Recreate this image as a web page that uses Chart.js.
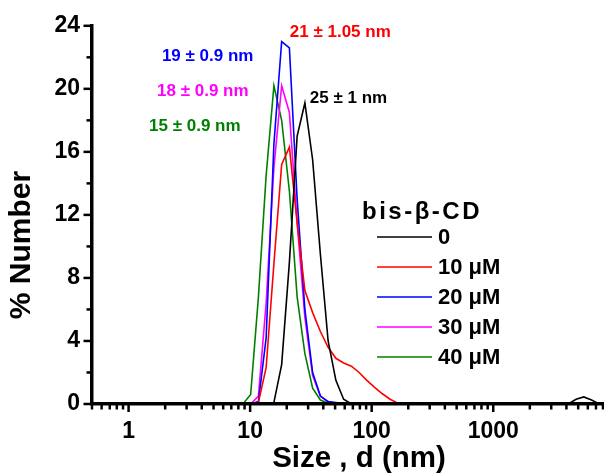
<!DOCTYPE html>
<html><head><meta charset="utf-8">
<script src="https://cdn.jsdelivr.net/npm/chart.js@4.4.1/dist/chart.umd.min.js"></script>
<style>html,body{margin:0;padding:0;background:#fff;}#wrap{width:604px;height:475px;}</style>
</head><body><div id="wrap"><canvas id="c" width="604" height="475"></canvas></div>
<script>
// Size bins (nm)
const sizes = [5.615, 6.503, 7.531, 8.721, 10.1, 11.7, 13.54, 15.69, 18.17, 21.04, 24.36, 28.21, 32.67, 37.84, 43.82, 50.75, 58.77, 68.06, 78.82, 91.28, 105.7, 122.4, 141.8, 164.2, 190.1, 220.2, 3580, 4145, 4801, 5560, 6439, 7456, 8635];
// % Number per series
const conc0  = [0,0,0,0,0,0,0,0.1,2.5,9.0,17.0,19.1,15.5,9.5,4.0,1.5,0.3,0,0,0,0,0,0,0,0,0,0,0,0.3,0.45,0.25,0,0];
const conc10 = [0,0,0,0,0,0.1,2.3,8.9,15.2,16.3,11.5,7.2,5.8,4.6,3.6,2.9,2.6,2.4,2.0,1.5,1.05,0.65,0.3,0.05,0,0,0,0,0,0,0,0,0];
const conc20 = [0,0,0,0,0,0.15,4.2,16.5,23.0,22.6,13.0,6.0,2.0,0.5,0.15,0.1,0.05,0,0,0,0,0,0,0,0,0,0,0,0,0,0,0,0];
const conc30 = [0,0,0,0,0,0.5,6.4,15.0,20.2,18.5,11.5,5.5,1.8,0.5,0.15,0.05,0,0,0,0,0,0,0,0,0,0,0,0,0,0,0,0,0];
const conc40 = [0,0,0,0,0.6,6.8,14.5,20.2,18.0,13.5,6.8,3.2,1.0,0.25,0.05,0,0,0,0,0,0,0,0,0,0,0,0,0,0,0,0,0,0];

const seriesLabels = ['0', '10 \u03bcM', '20 \u03bcM', '30 \u03bcM', '40 \u03bcM'];
const seriesColors = ['#000000', '#ff0000', '#0000ff', '#ff00ff', '#008000'];
const seriesValues = [conc0, conc10, conc20, conc30, conc40];
const legendTitle = 'bis-\u03b2-CD';

const xMajorTicks = [1, 10, 100, 1000];
const xTickValues = [0.5,0.6,0.7,0.8,0.9, 1,2,3,4,5,6,7,8,9, 10,20,30,40,50,60,70,80,90, 100,200,300,400,500,600,700,800,900, 1000,2000,3000,4000,5000,6000,7000,8000];
const yTickValues = [0,2,4,6,8,10,12,14,16,18,20,22,24];
const yMajorTicks = [0,4,8,12,16,20,24];

const peakTexts  = ['21 \u00b1 1.05 nm', '19 \u00b1 0.9 nm', '18 \u00b1 0.9 nm', '15 \u00b1 0.9 nm', '25 \u00b1 1 nm'];
const peakColors = ['#ff0000', '#0000ff', '#ff00ff', '#008000', '#000000'];
const peakAtSize = [21.2, 1.88, 1.714, 1.474, 31.0];
const peakAtPct  = [23.56, 22.05, 19.84, 17.62, 19.39];

const xTitle = 'Size , d (nm)';
const yTitle = '% Number';

const FONT = '"Liberation Sans", Arial, Helvetica, sans-serif';

const overlay = {
  id: 'overlay',
  afterDraw(chart) {
    const ctx = chart.ctx, xs = chart.scales.x, ys = chart.scales.y, a = chart.chartArea;
    ctx.save();
    ctx.strokeStyle = '#000';
    ctx.lineWidth = 2.5;
    xTickValues.forEach(v => {
      const px = xs.getPixelForValue(v);
      const len = xMajorTicks.includes(v) ? 8 : 5.5;
      ctx.beginPath(); ctx.moveTo(px, a.bottom); ctx.lineTo(px, a.bottom + len); ctx.stroke();
    });
    yTickValues.forEach(v => {
      const py = ys.getPixelForValue(v);
      const len = yMajorTicks.includes(v) ? 8.5 : 5.5;
      ctx.beginPath(); ctx.moveTo(a.left, py); ctx.lineTo(a.left - len, py); ctx.stroke();
    });
    // axis titles
    ctx.fillStyle = '#000';
    ctx.font = 'bold 29.5px ' + FONT;
    ctx.textAlign = 'center'; ctx.textBaseline = 'middle';
    ctx.fillText(xTitle, 359, 459);
    ctx.save();
    ctx.font = 'bold 30px ' + FONT;
    ctx.translate(22, 245); ctx.rotate(-Math.PI / 2);
    ctx.fillText(yTitle, 0, 0);
    ctx.restore();
    // peak labels
    ctx.font = 'bold 17px ' + FONT;
    ctx.textAlign = 'left';
    peakTexts.forEach((t, i) => {
      ctx.fillStyle = peakColors[i];
      ctx.fillText(t, xs.getPixelForValue(peakAtSize[i]), ys.getPixelForValue(peakAtPct[i]));
    });
    // legend
    ctx.fillStyle = '#000';
    ctx.font = 'bold 24px ' + FONT;
    ctx.letterSpacing = '2.5px';
    ctx.fillText(legendTitle, 362, 212);
    ctx.letterSpacing = '0px';
    ctx.font = 'bold 22px ' + FONT;
    seriesLabels.forEach((lab, i) => {
      const y = 237 + i * 30;
      ctx.strokeStyle = seriesColors[i]; ctx.lineWidth = 1.6;
      ctx.beginPath(); ctx.moveTo(377, y); ctx.lineTo(432, y); ctx.stroke();
      ctx.fillStyle = '#000';
      ctx.fillText(lab, 438, y + 1);
    });
    ctx.restore();
  }
};

new Chart(document.getElementById('c'), {
  type: 'line',
  data: {
    datasets: seriesValues.map((vals, i) => ({
      label: seriesLabels[i],
      data: sizes.map((s, j) => ({ x: s, y: vals[j] })),
      borderColor: seriesColors[i],
      backgroundColor: seriesColors[i],
      borderWidth: 1.6,
      pointRadius: 0,
      tension: 0,
      fill: false
    }))
  },
  options: {
    responsive: false,
    animation: false,
    devicePixelRatio: 1,
    layout: { padding: { top: 24, right: 1, left: 0, bottom: 0 } },
    plugins: { legend: { display: false }, tooltip: { enabled: false } },
    scales: {
      x: {
        type: 'logarithmic', min: 0.5, max: 8000,
        afterBuildTicks: s => { s.ticks = xTickValues.map(v => ({ value: v })); },
        afterFit: s => { s.height = 71; s.paddingLeft = 0; s.paddingRight = 0; },
        ticks: {
          autoSkip: false, maxRotation: 0, minRotation: 0, padding: 14, color: '#000',
          font: { family: FONT, size: 23, weight: 'bold' },
          callback: v => xMajorTicks.includes(v) ? String(v) : ''
        },
        grid: { drawOnChartArea: false, drawTicks: false },
        border: { display: true, width: 3.5, color: '#000', z: 1 }
      },
      y: {
        type: 'linear', min: 0, max: 24,
        afterBuildTicks: s => { s.ticks = yTickValues.map(v => ({ value: v })); },
        afterFit: s => { s.width = 92; },
        ticks: {
          autoSkip: false, padding: 12, color: '#000',
          font: { family: FONT, size: 23, weight: 'bold' },
          callback: v => yMajorTicks.includes(v) ? String(v) : ''
        },
        grid: { drawOnChartArea: false, drawTicks: false },
        border: { display: true, width: 3.5, color: '#000', z: 1 }
      }
    }
  },
  plugins: [overlay]
});
</script></body></html>
